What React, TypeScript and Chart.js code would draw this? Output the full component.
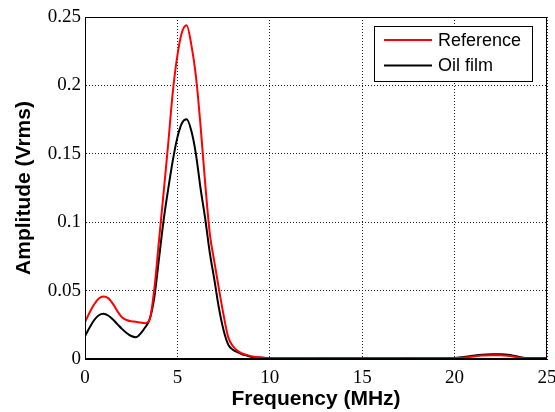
import React, { useEffect, useRef } from "react";
import { Chart, registerables } from "chart.js";

Chart.register(...registerables);

const freq = [0, 0.25, 0.5, 0.75, 1, 1.25, 1.5, 1.75, 2, 2.25, 2.5, 2.75, 3, 3.25, 3.5, 3.75, 4, 4.25, 4.5, 4.75, 5, 5.25, 5.5, 5.75, 6, 6.25, 6.5, 6.75, 7, 7.25, 7.5, 7.75, 8, 8.25, 8.5, 8.75, 9, 9.5, 10, 11, 12, 13, 14, 15, 16, 17, 18, 19, 20, 20.5, 21, 21.5, 22, 22.5, 23, 23.5, 24, 25];

const referenceAmp = [0.027, 0.034, 0.04, 0.0442, 0.0456, 0.0445, 0.0405, 0.035, 0.0305, 0.0285, 0.0276, 0.0272, 0.0266, 0.0262, 0.029, 0.051, 0.086, 0.121, 0.157, 0.195, 0.222, 0.239, 0.244, 0.23, 0.207, 0.171, 0.129, 0.092, 0.071, 0.051, 0.032, 0.016, 0.0095, 0.006, 0.004, 0.003, 0.002, 0.0012, 0.0006, 0.0008, 0.0008, 0.0005, 0.0006, 0.0006, 0.0008, 0.0007, 0.0006, 0.0005, 0.0006, 0.001, 0.0018, 0.0025, 0.0028, 0.0028, 0.0022, 0.001, 0.0006, 0.0006];

const oilFilmAmp = [0.0168, 0.023, 0.0285, 0.032, 0.033, 0.0318, 0.029, 0.0255, 0.022, 0.019, 0.0168, 0.0159, 0.0185, 0.023, 0.029, 0.045, 0.073, 0.101, 0.124, 0.145, 0.162, 0.1725, 0.1752, 0.167, 0.15, 0.125, 0.103, 0.078, 0.058, 0.037, 0.021, 0.0105, 0.0068, 0.005, 0.0035, 0.0025, 0.0015, 0.001, 0.0006, 0.0007, 0.0007, 0.0006, 0.0006, 0.0006, 0.0007, 0.0007, 0.0006, 0.0006, 0.0007, 0.0015, 0.0024, 0.0031, 0.0034, 0.0034, 0.0029, 0.0015, 0.0007, 0.0007];

const seriesLabels = ["Reference", "Oil film"];
const xTitle = "Frequency (MHz)";
const yTitle = "Amplitude (Vrms)";

const boxAndLegend = {
  id: "boxAndLegend",
  afterDatasetsDraw(chart: any) {
    const { ctx, chartArea } = chart;
    const { left, top, right, bottom } = chartArea;
    ctx.save();
    ctx.strokeStyle = "#000";
    ctx.lineWidth = 1;
    ctx.setLineDash([]);
    ctx.strokeRect(left + 0.5, top + 0.5, right - left - 1, bottom - top - 1);

    // legend
    const bx = right - 173;
    const by = top + 9;
    const bw = 158;
    const bh = 55;
    ctx.fillStyle = "#fff";
    ctx.fillRect(bx, by, bw, bh);
    ctx.strokeRect(bx + 0.5, by + 0.5, bw, bh);
    ctx.font = "18px 'Liberation Sans', Arial, sans-serif";
    ctx.textBaseline = "middle";
    chart.data.datasets.forEach((ds: any, i: number) => {
      const y = by + 14 + i * 25.5;
      ctx.strokeStyle = ds.borderColor;
      ctx.lineWidth = 2;
      ctx.beginPath();
      ctx.moveTo(bx + 10, y);
      ctx.lineTo(bx + 58, y);
      ctx.stroke();
      ctx.fillStyle = "#000";
      ctx.fillText(ds.label, bx + 64, y + 1);
    });
    ctx.restore();
  },
};

export default function App() {
  const ref = useRef<HTMLCanvasElement>(null);
  useEffect(() => {
    if (!ref.current) return;
    const mk = (ys: number[]) => freq.map((x, i) => ({ x, y: ys[i] }));
    const chart = new Chart(ref.current, {
      type: "scatter",
      data: {
        datasets: [
          {
            label: seriesLabels[0],
            data: mk(referenceAmp),
            showLine: true,
            borderColor: "#ff0000",
            borderWidth: 2,
            pointRadius: 0,
            cubicInterpolationMode: "monotone",
          },
          {
            label: seriesLabels[1],
            data: mk(oilFilmAmp),
            showLine: true,
            borderColor: "#000000",
            borderWidth: 2,
            pointRadius: 0,
            cubicInterpolationMode: "monotone",
          },
        ],
      } as any,
      plugins: [boxAndLegend],
      options: {
        animation: false,
        responsive: false,
        layout: { padding: { top: 17, right: 8, left: 0, bottom: 0 } },
        plugins: { legend: { display: false }, tooltip: { enabled: false } },
        scales: {
          x: {
            type: "linear",
            min: 0,
            max: 25,
            ticks: {
              stepSize: 5,
              color: "#000",
              padding: 8,
              maxRotation: 0,
              font: { family: "'Liberation Serif', 'Times New Roman', serif", size: 19 },
            },
            grid: { color: "#222", drawTicks: false } as any,
            border: { display: true, color: "#000", dash: [1, 2] } as any,
            title: {
              display: true,
              text: xTitle,
              color: "#000",
              font: { family: "'Liberation Sans', Arial, sans-serif", size: 21, weight: "bold" },
              padding: { top: 0, bottom: 0 },
            },
            afterFit: (s: any) => {
              s.height = 53;
              s.paddingLeft = 0;
              s.paddingRight = 0;
            },
          } as any,
          y: {
            type: "linear",
            min: 0,
            max: 0.25,
            ticks: {
              stepSize: 0.05,
              color: "#000",
              padding: 4,
              font: { family: "'Liberation Serif', 'Times New Roman', serif", size: 19 },
              callback: (v: any) => String(Number(Number(v).toFixed(2))),
            },
            grid: { color: "#222", drawTicks: false } as any,
            border: { display: true, color: "#000", dash: [1, 2] } as any,
            title: {
              display: true,
              text: yTitle,
              color: "#000",
              font: { family: "'Liberation Sans', Arial, sans-serif", size: 21, weight: "bold" },
              padding: { top: 12, bottom: 12 },
            },
            afterFit: (s: any) => {
              s.width = 85;
              s.paddingTop = 0;
              s.paddingBottom = 0;
            },
          } as any,
        },
      } as any,
    });
    return () => chart.destroy();
  }, []);
  return (
    <div style={{ position: "fixed", left: 0, top: 0, width: 555, height: 412, background: "#fff" }}>
      <canvas ref={ref} width={555} height={412} style={{ width: 555, height: 412 }} />
    </div>
  );
}
